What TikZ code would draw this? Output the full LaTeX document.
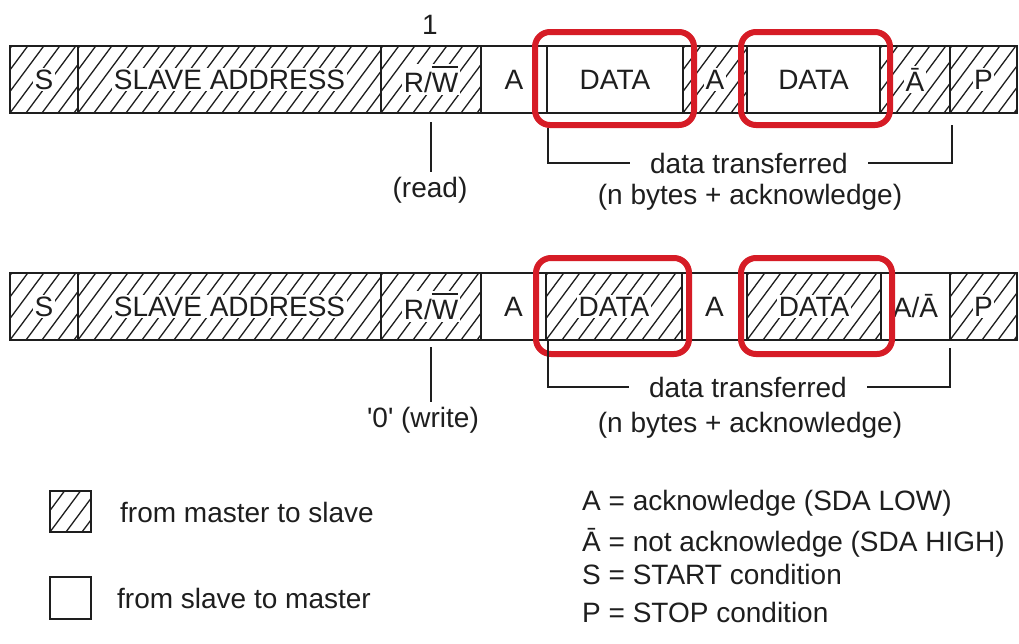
\documentclass[tikz,border=0pt]{standalone}
\usepackage{fontspec}
\setmainfont{Liberation Sans}
\usetikzlibrary{calc}
\definecolor{ink}{RGB}{30,30,30}
\definecolor{mark}{RGB}{214,28,38}
\newlength{\owid}
\newcommand{\ovw}[1]{\settowidth{\owid}{#1}\rlap{\rule[0.9em]{\owid}{1.8pt}}#1}
\newcommand{\hb}[1]{{\setlength{\fboxsep}{1.5pt}\colorbox{white}{#1}}}
\begin{document}
\begin{tikzpicture}[x=1pt,y=-1pt,
  every node/.style={font=\fontsize{28}{34}\selectfont, text=ink},
  cell/.style={draw=ink, line width=2pt, fill=white, minimum height=67pt, inner sep=0pt, outer sep=0pt},
  hatched/.style={path picture={
     \foreach \k in {-5,...,21}
       \draw[ink, line width=1.3pt] ($(path picture bounding box.south west)+(\k*16pt,0pt)$) -- ++(52pt,70pt);}},
  redbox/.style={draw=mark, line width=6pt, rounded corners=15pt, inner sep=0pt},
  brk/.style={draw=ink, line width=1.5pt},
  lbl/.style={inner sep=5pt}
]
\path[fill=white] (0,0) rectangle (1019,643);
\useasboundingbox (0,0) rectangle (1019,643);

% Row 1
\node[cell,hatched,minimum width=68pt] (s1) at (44,79.5) {\hb{S}};
\node[cell,hatched,minimum width=303pt] (sa1) at (229.5,79.5) {\hb{SLAVE ADDRESS}};
\node[cell,hatched,minimum width=100pt] (rw1) at (431,79.5) {\hb{R/\ovw{W}}};
\node[cell,minimum width=66pt] (a1) at (514,79.5) {A};
\node[cell,minimum width=136pt] (d1) at (615,79.5) {DATA};
\node[cell,hatched,minimum width=64pt] (a1b) at (715,79.5) {\hb{A}};
\node[cell,minimum width=133pt] (d1b) at (813.5,79.5) {DATA};
\node[cell,hatched,minimum width=70pt] (n1) at (915,79.5) {\hb{Ā}};
\node[cell,hatched,minimum width=67pt] (p1) at (983.5,79.5) {\hb{P}};

% Row 2
\node[cell,hatched,minimum width=68pt] (s2) at (44,306.5) {\hb{S}};
\node[cell,hatched,minimum width=303pt] (sa2) at (229.5,306.5) {\hb{SLAVE ADDRESS}};
\node[cell,hatched,minimum width=100pt] (rw2) at (431,306.5) {\hb{R/\ovw{W}}};
\node[cell,minimum width=65pt] (a2) at (513.5,306.5) {A};
\node[cell,hatched,minimum width=136pt] (d2) at (614,306.5) {\hb{DATA}};
\node[cell,minimum width=65pt] (a2b) at (714.5,306.5) {A};
\node[cell,hatched,minimum width=134pt] (d2b) at (814,306.5) {\hb{DATA}};
\node[cell,minimum width=69pt] (n2) at (915.5,306.5) {\raisebox{2pt}{A/Ā}};
\node[cell,hatched,minimum width=67pt] (p2) at (983.5,306.5) {\hb{P}};

% red highlight boxes
\node[redbox,minimum width=159pt,minimum height=93pt] (r1) at (614.5,78.5) {};
\node[redbox,minimum width=149pt,minimum height=93pt] (r2) at (815.5,78.5) {};
\node[redbox,minimum width=153pt,minimum height=96pt] (r3) at (612.5,306) {};
\node[redbox,minimum width=151pt,minimum height=96pt] (r4) at (816.5,306) {};

% R/W labels
\node[lbl] (one) at (430,25) {1};
\node[lbl] (rd) at (430,190) {(read)};
\draw[brk] ([yshift=-9pt]rw1.south) -- (rw1.south |- rd.north);
\node[lbl] (wr) at (423,420) {\textquotesingle 0\textquotesingle{} (write)};
\draw[brk] ([yshift=-7pt]rw2.south) -- (rw2.south |- wr.north);

% brackets row 1
\node[lbl, inner xsep=20pt] (dt1) at (749,163) {data transferred};
\node[lbl] (nb1) at (750,197) {(n bytes + acknowledge)};
\coordinate (b1l) at (548,128);
\coordinate (b1r) at (952,125);
\draw[brk] (b1l) |- (dt1.west);
\draw[brk] (b1r) |- (dt1.east);

% brackets row 2
\node[lbl, inner xsep=20pt] (dt2) at (748,387) {data transferred};
\node[lbl] (nb2) at (750,425) {(n bytes + acknowledge)};
\coordinate (b2l) at (548,340);
\coordinate (b2r) at (950,348);
\draw[brk] (b2l) |- (dt2.west);
\draw[brk] (b2r) |- (dt2.east);

% legend
\node[cell,hatched,minimum width=41pt,minimum height=41pt] (lh) at (70.5,511.5) {};
\node[cell,minimum width=41pt,minimum height=42pt] (lw) at (70.5,598) {};
\node[anchor=base west, inner sep=0pt] (lt1) at (120,522) {from master to slave};
\node[anchor=base west, inner sep=0pt] (lt2) at (117,608) {from slave to master};

\node[anchor=base west, inner sep=0pt] (k1) at (582,510) {A = acknowledge (SDA LOW)};
\node[anchor=base west, inner sep=0pt] (k2) at (582,551) {Ā = not acknowledge (SDA HIGH)};
\node[anchor=base west, inner sep=0pt] (k3) at (582,584) {S = START condition};
\node[anchor=base west, inner sep=0pt] (k4) at (582,622) {P = STOP condition};
\end{tikzpicture}
\end{document}
